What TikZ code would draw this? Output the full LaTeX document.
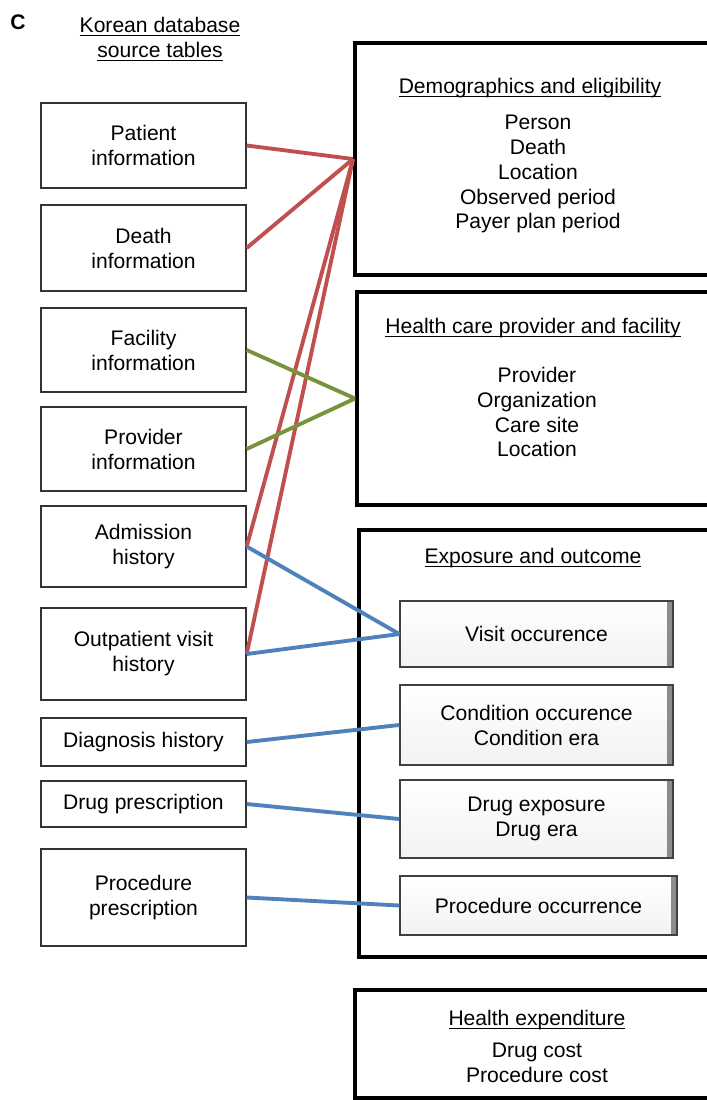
\documentclass[tikz,border=0pt]{standalone}
\usepackage{fontspec}
\setmainfont{Liberation Sans}
\newsavebox{\ulinebox}
\newcommand{\ulined}[1]{\sbox{\ulinebox}{#1}\rlap{\rule[-2.2pt]{\wd\ulinebox}{0.6pt}}\usebox{\ulinebox}}
\definecolor{linkred}{RGB}{192,80,77}
\definecolor{linkgreen}{RGB}{119,147,60}
\definecolor{linkblue}{RGB}{79,129,189}
\begin{document}
\begin{tikzpicture}
  [x=0.02cm, y=-0.02cm,
  every node/.style={font=\fontsize{12}{14.2}\selectfont, align=center},
  block/.style={rectangle, draw=black!80, line width=0.8pt, minimum width=4.1cm, inner sep=0pt},
  group/.style={rectangle, draw=black, line width=2.3pt, inner sep=0pt},
  cdmbox/.style={rectangle, draw=black!75, line width=0.8pt, inner sep=0pt,
    top color=white, bottom color=black!5,
    path picture={\fill[black!45] ([xshift=-0.11cm]path picture bounding box.north east)
      rectangle (path picture bounding box.south east);}},
  heading/.style={anchor=base},
  redline/.style={draw=linkred, line width=2.2pt},
  greenline/.style={draw=linkgreen, line width=2.2pt},
  blueline/.style={draw=linkblue, line width=2.2pt}]
  \clip (0,0) rectangle (707,1100);
  % heading
  \node [font=\fontsize{12}{14.2}\selectfont\bfseries, anchor=base] (label) at (18,29) {C};
  \node [heading] (srctitle1) at (160,32) {\ulined{Korean database}};
  \node [heading] (srctitle2) at (160,57) {\ulined{source tables}};
  % source tables
  \node [block, minimum height=1.7cm] (patient) at (143.5,145.5) {Patient\\information};
  \node [block, minimum height=1.72cm] (death) at (143.5,248) {Death\\information};
  \node [block, minimum height=1.68cm] (facility) at (143.5,350) {Facility\\information};
  \node [block, minimum height=1.68cm] (provider) at (143.5,449) {Provider\\information};
  \node [block, minimum height=1.62cm] (admission) at (143.5,546.5) {Admission\\history};
  \node [block, minimum height=1.84cm] (outpatient) at (143.5,654) {Outpatient visit\\history};
  \node [block, minimum height=0.96cm] (diagnosis) at (143.5,742) {Diagnosis history};
  \node [block, minimum height=0.92cm] (drugrx) at (143.5,804) {Drug prescription};
  \node [block, minimum height=1.94cm] (procrx) at (143.5,897.5) {Procedure\\prescription};
  % CDM groups
  \node [group, minimum width=7.3cm, minimum height=4.64cm] (demo) at (537.5,159) {};
  \node [heading] (demotitle) at (530,93) {\ulined{Demographics and eligibility}};
  \node (demolist) at (538,174) {Person\\Death\\Location\\Observed period\\Payer plan period};
  \node [group, minimum width=7.26cm, minimum height=4.26cm] (provfac) at (538.5,398.5) {};
  \node [heading] (provtitle) at (533,333) {\ulined{Health care provider and facility}};
  \node (provlist) at (537,412) {Provider\\Organization\\Care site\\Location};
  \node [group, minimum width=7.22cm, minimum height=8.54cm] (exposure) at (539.5,743.5) {};
  \node [heading] (exptitle) at (533,563) {\ulined{Exposure and outcome}};
  \node [cdmbox, minimum width=5.46cm, minimum height=1.32cm] (visit) at (536.5,634) {Visit occurence};
  \node [cdmbox, minimum width=5.46cm, minimum height=1.6cm] (condition) at (536.5,725) {Condition occurence\\Condition era};
  \node [cdmbox, minimum width=5.46cm, minimum height=1.56cm] (drugexp) at (536.5,819) {Drug exposure\\Drug era};
  \node [cdmbox, minimum width=5.54cm, minimum height=1.18cm] (prococc) at (538.5,905.5) {Procedure occurrence};
  \node [group, minimum width=7.3cm, minimum height=2.16cm] (expend) at (537.5,1044) {};
  \node [heading] (costtitle) at (537,1025) {\ulined{Health expenditure}};
  \node (costlist) at (537,1063) {Drug cost\\Procedure cost};
  % edges
  \path [redline] (patient.east) -- (demo.west);
  \path [redline] (death.east) -- (demo.west);
  \path [redline] (admission.east) -- (demo.west);
  \path [redline] (outpatient.east) -- (demo.west);
  \path [greenline] (facility.east) -- (provfac.west);
  \path [greenline] (provider.east) -- (provfac.west);
  \path [blueline] (admission.east) -- (visit.west);
  \path [blueline] (outpatient.east) -- (visit.west);
  \path [blueline] (diagnosis.east) -- (condition.west);
  \path [blueline] (drugrx.east) -- (drugexp.west);
  \path [blueline] (procrx.east) -- (prococc.west);
\end{tikzpicture}
\end{document}
